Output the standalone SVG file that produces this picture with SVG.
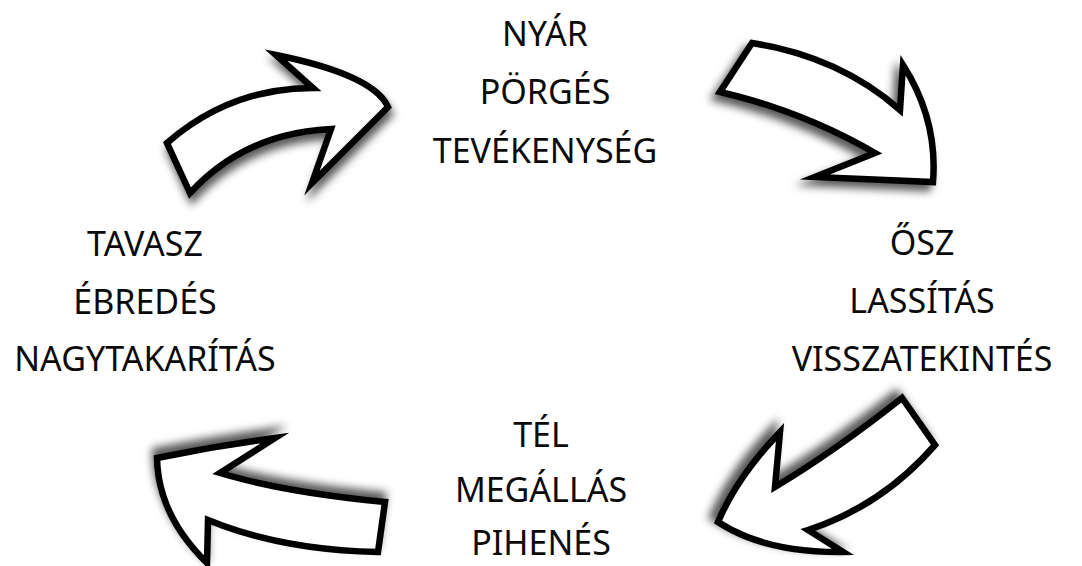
<svg xmlns="http://www.w3.org/2000/svg" width="1082" height="566" viewBox="0 0 1082 566">
<style>
.lbl{font-family:"Noto Sans","Open Sans","DejaVu Sans",sans-serif;font-size:34px;fill:#0a0a0a;text-anchor:middle}
.arrow{fill:#fff;stroke:#000;stroke-width:6.5;stroke-linejoin:miter;stroke-miterlimit:10}
</style>
<defs>
<filter id="sh1" x="-30%" y="-30%" width="160%" height="160%"><feDropShadow dx="2" dy="7" stdDeviation="4" flood-color="#000" flood-opacity="0.65"/></filter>
<filter id="sh2" x="-30%" y="-30%" width="160%" height="160%"><feDropShadow dx="-5" dy="6" stdDeviation="4" flood-color="#000" flood-opacity="0.65"/></filter>
<filter id="sh3" x="-30%" y="-30%" width="160%" height="160%"><feDropShadow dx="-6" dy="-5" stdDeviation="4" flood-color="#000" flood-opacity="0.65"/></filter>
<filter id="sh4" x="-30%" y="-30%" width="160%" height="160%"><feDropShadow dx="-2" dy="-7" stdDeviation="4" flood-color="#000" flood-opacity="0.65"/></filter>
</defs>
<rect width="1082" height="566" fill="#fff"/>
<g id="connectors">
<path class="arrow" filter="url(#sh1)" d="M167,143 Q230,88 313,88 L276,55 Q374,75 388,107 L312,183 L331,129 Q245,133 190,193 Z"/>
<path class="arrow" filter="url(#sh2)" d="M752,43 Q840,57 900,110 L903,65 Q938,120 933,182 L815,177 L875,153 Q802,111 720,92 Z"/>
<path class="arrow" filter="url(#sh3)" d="M902,398 Q835,451 775,487 L780,432 Q737,477 718,522 Q765,553 843,552 L808,530 Q882,506 935,445 Z"/>
<path class="arrow" filter="url(#sh4)" d="M385,502 Q283,492 220,473 L275,438 Q216,446 157,458 Q158,515 207,563 L208,520 Q281,550 378,552 Z"/>
</g>
<g id="summer">
<text class="lbl" x="545" y="46">NYÁR</text>
<text class="lbl" x="545" y="104">PÖRGÉS</text>
<text class="lbl" x="545" y="163">TEVÉKENYSÉG</text>
</g>
<g id="spring">
<text class="lbl" x="145" y="256">TAVASZ</text>
<text class="lbl" x="145" y="314">ÉBREDÉS</text>
<text class="lbl" x="145" y="371">NAGYTAKARÍTÁS</text>
</g>
<g id="autumn">
<text class="lbl" x="922" y="255">ŐSZ</text>
<text class="lbl" x="922" y="313">LASSÍTÁS</text>
<text class="lbl" x="922" y="371">VISSZATEKINTÉS</text>
</g>
<g id="winter">
<text class="lbl" x="541" y="447">TÉL</text>
<text class="lbl" x="541" y="502">MEGÁLLÁS</text>
<text class="lbl" x="541" y="555">PIHENÉS</text>
</g>
</svg>
